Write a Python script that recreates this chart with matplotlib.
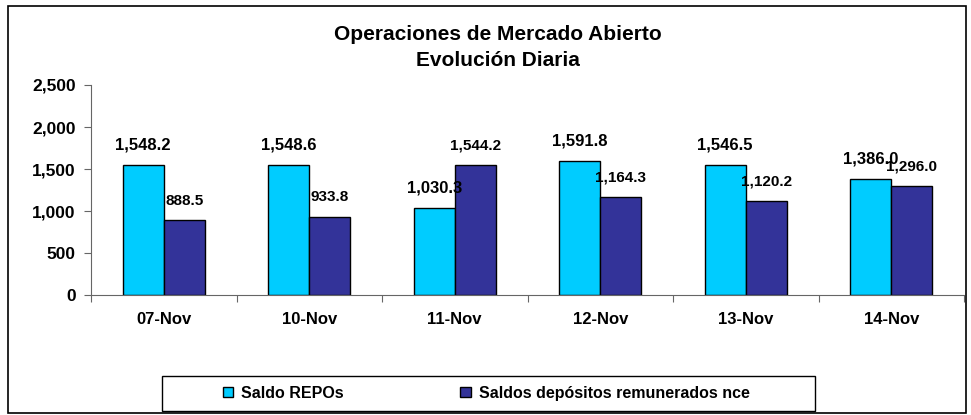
import matplotlib.pyplot as plt
from matplotlib.patches import Rectangle
from matplotlib.ticker import FuncFormatter

plt.rcParams["font.family"] = ["Liberation Sans", "DejaVu Sans"]

# data
categories = ["07-Nov", "10-Nov", "11-Nov", "12-Nov", "13-Nov", "14-Nov"]
saldo_repos = [1548.2, 1548.6, 1030.3, 1591.8, 1546.5, 1386.0]
saldo_depositos = [888.5, 933.8, 1544.2, 1164.3, 1120.2, 1296.0]
series_names = ["Saldo REPOs", "Saldos depósitos remunerados nce"]
y_ticks = [0, 500, 1000, 1500, 2000, 2500]

W, H = 971, 415
fig = plt.figure(figsize=(W / 100, H / 100), dpi=100)
ax = fig.add_axes([91 / W, 1 - 295 / H, (964 - 91) / W, (295 - 85) / H])

x = list(range(len(categories)))
bw = 0.282
b1 = ax.bar([i - bw / 2 for i in x], saldo_repos, bw, color="#00CCFF",
            edgecolor="black", linewidth=1, label=series_names[0])
b2 = ax.bar([i + bw / 2 for i in x], saldo_depositos, bw, color="#333399",
            edgecolor="black", linewidth=1, label=series_names[1])

for bar, v in zip(b1, saldo_repos):
    ax.annotate(f"{v:,.1f}", (bar.get_x() + bar.get_width() / 2, v),
                xytext=(0, 9), textcoords="offset points", ha="center",
                va="bottom", fontsize=12, fontweight="bold")
for bar, v in zip(b2, saldo_depositos):
    ax.annotate(f"{v:,.1f}", (bar.get_x() + bar.get_width() / 2, v),
                xytext=(0, 9), textcoords="offset points", ha="center",
                va="bottom", fontsize=11, fontweight="bold")

ax.set_xlim(-0.5, len(categories) - 0.5)
ax.set_ylim(0, 2500)
ax.set_yticks(y_ticks)
ax.yaxis.set_major_formatter(FuncFormatter(lambda v, _: f"{v:,.0f}"))

# ticks between categories, labels at the centres
ax.set_xticks([i + 0.5 for i in range(-1, len(categories))])
ax.set_xticklabels([])
ax.set_xticks(x, minor=True)
ax.set_xticklabels(categories, minor=True)
ax.tick_params(axis="x", which="major", length=5, direction="out", color="#666666")
ax.tick_params(axis="x", which="minor", length=0, pad=12)
ax.tick_params(axis="y", length=5, direction="out", color="#666666", pad=6)

for lab in ax.get_xticklabels(minor=True):
    lab.set_fontweight("bold")
    lab.set_fontsize(12)
for lab in ax.get_yticklabels():
    lab.set_fontweight("bold")
    lab.set_fontsize(12.5)

for s in ["top", "right"]:
    ax.spines[s].set_visible(False)
for s in ["left", "bottom"]:
    ax.spines[s].set_color("#666666")

fig.text(498 / W, 1 - 35 / H, "Operaciones de Mercado Abierto", ha="center",
         va="center", fontsize=15, fontweight="bold")
fig.text(498 / W, 1 - 61 / H, "Evolución Diaria", ha="center",
         va="center", fontsize=15, fontweight="bold")

# outer chart border and legend frame
fig.patches.append(Rectangle((8 / W, 2 / H), 958 / W, 407 / H, fill=False,
                             edgecolor="black", linewidth=1.2,
                             transform=fig.transFigure))
fig.patches.append(Rectangle((162 / W, 1 - 411 / H), (815 - 162) / W, 35 / H,
                             fill=False, edgecolor="black", linewidth=1,
                             transform=fig.transFigure))

leg = fig.legend(handles=[b1, b2], loc="center", ncol=2,
                 bbox_to_anchor=(486 / W, 1 - 393 / H), frameon=False,
                 prop={"weight": "bold", "size": 11.5}, handlelength=0.65,
                 handleheight=0.65, handletextpad=0.5, columnspacing=7.3)

fig.savefig("out.png", dpi=100)
